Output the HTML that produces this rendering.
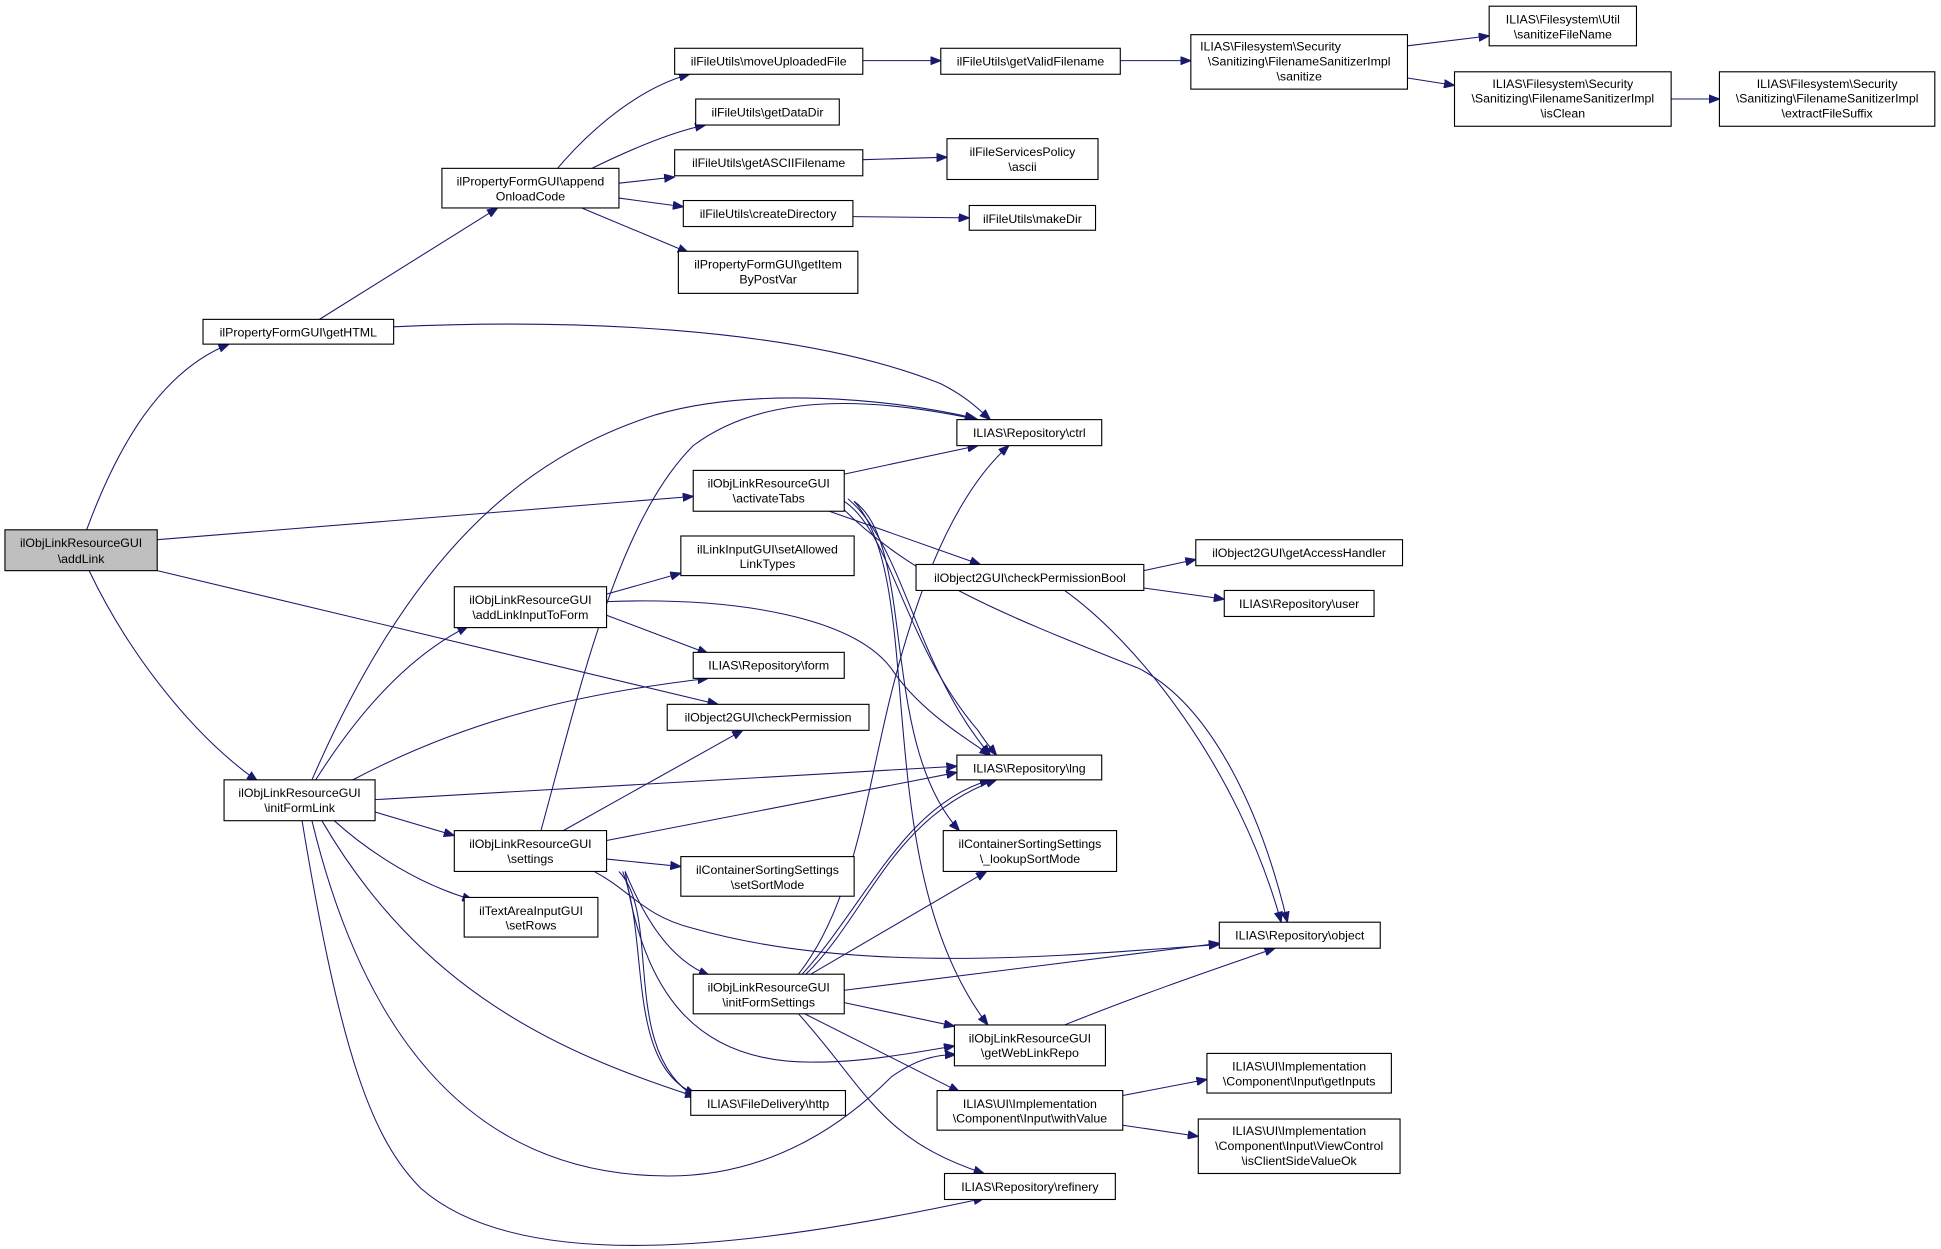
<!DOCTYPE html>
<html><head><meta charset="utf-8"><style>
html,body{margin:0;padding:0;background:#fff;}
svg{display:block;}
text{font-family:"Liberation Sans",Arial,sans-serif;font-size:10px;fill:#000;text-anchor:middle;}
.n{fill:#fff;stroke:#000;stroke-width:0.9;}
.g{fill:#bfbfbf;stroke:#000;stroke-width:0.9;}
.e{fill:none;stroke:#191970;stroke-width:0.85;}
</style></head><body>
<svg width="1941" height="1249" viewBox="0 0 1568 1009" preserveAspectRatio="none" xmlns="http://www.w3.org/2000/svg">
<defs><marker id="a" markerWidth="9" markerHeight="7" refX="8.5" refY="3.5" orient="auto" markerUnits="userSpaceOnUse"><path d="M0,0 L9,3.5 L0,7 z" fill="#191970" stroke="#191970" stroke-width="0.5"/></marker></defs>
<g class="edges">
<path class="e" marker-end="url(#a)" d="M70,428 C95,360 130,300 185,278"/>
<path class="e" marker-end="url(#a)" d="M258,258 L402,168"/>
<path class="e" marker-end="url(#a)" d="M447,140 C480,100 520,70 557,60"/>
<path class="e" marker-end="url(#a)" d="M470,140 C500,125 540,107 570,101"/>
<path class="e" marker-end="url(#a)" d="M500,148 L545,143"/>
<path class="e" marker-end="url(#a)" d="M500,160 L552,167"/>
<path class="e" marker-end="url(#a)" d="M470,168 L556,204"/>
<path class="e" marker-end="url(#a)" d="M697,49 L760,49"/>
<path class="e" marker-end="url(#a)" d="M905,49 L962,49"/>
<path class="e" marker-end="url(#a)" d="M1137,37 L1203,29"/>
<path class="e" marker-end="url(#a)" d="M1137,63 L1175,69"/>
<path class="e" marker-end="url(#a)" d="M1350,80 L1389,80"/>
<path class="e" marker-end="url(#a)" d="M697,129 L765,127"/>
<path class="e" marker-end="url(#a)" d="M689,175 L783,176"/>
<path class="e" marker-end="url(#a)" d="M318,264 C450,258 640,262 760,310 C780,320 790,330 800,339"/>
<path class="e" marker-end="url(#a)" d="M127,436 L560,401"/>
<path class="e" marker-end="url(#a)" d="M72,461 C100,520 150,590 208,631"/>
<path class="e" marker-end="url(#a)" d="M127,461 L580,569"/>
<path class="e" marker-end="url(#a)" d="M682,383 L790,360"/>
<path class="e" marker-end="url(#a)" d="M670,413 L792,456"/>
<path class="e" marker-end="url(#a)" d="M682,405 C720,430 730,520 790,590 C795,598 800,604 805,610"/>
<path class="e" marker-end="url(#a)" d="M685,403 C730,440 740,540 800,610"/>
<path class="e" marker-end="url(#a)" d="M680,410 C740,470 820,500 920,540 C980,570 1020,660 1040,745"/>
<path class="e" marker-end="url(#a)" d="M690,405 C740,440 710,600 775,671"/>
<path class="e" marker-end="url(#a)" d="M690,405 C750,470 700,700 798,828"/>
<path class="e" marker-end="url(#a)" d="M924,461 L966,452"/>
<path class="e" marker-end="url(#a)" d="M924,475 L989,484"/>
<path class="e" marker-end="url(#a)" d="M860,477 C920,520 1000,620 1035,745"/>
<path class="e" marker-end="url(#a)" d="M252,630 C330,450 420,370 530,335 C610,312 720,322 788,338"/>
<path class="e" marker-end="url(#a)" d="M255,630 C290,575 330,530 378,506"/>
<path class="e" marker-end="url(#a)" d="M285,630 C380,580 470,560 572,548"/>
<path class="e" marker-end="url(#a)" d="M303,646 L773,619"/>
<path class="e" marker-end="url(#a)" d="M303,656 L367,675"/>
<path class="e" marker-end="url(#a)" d="M270,663 C300,690 340,715 382,727"/>
<path class="e" marker-end="url(#a)" d="M260,663 C340,800 450,850 562,886"/>
<path class="e" marker-end="url(#a)" d="M252,663 C290,820 370,950 540,950 C630,950 690,900 720,870 C740,856 755,852 772,852"/>
<path class="e" marker-end="url(#a)" d="M244,663 C275,850 300,920 340,960 C420,1030 600,1010 795,968"/>
<path class="e" marker-end="url(#a)" d="M490,480 L550,463"/>
<path class="e" marker-end="url(#a)" d="M490,497 L572,528"/>
<path class="e" marker-end="url(#a)" d="M490,486 C600,482 690,500 720,540 C740,570 770,590 800,610"/>
<path class="e" marker-end="url(#a)" d="M437,671 C470,550 500,420 560,360 C620,315 710,322 790,339"/>
<path class="e" marker-end="url(#a)" d="M455,671 L600,590"/>
<path class="e" marker-end="url(#a)" d="M490,679 L773,624"/>
<path class="e" marker-end="url(#a)" d="M490,694 L550,700"/>
<path class="e" marker-end="url(#a)" d="M480,704 C510,720 520,740 560,750 C700,790 880,770 985,763"/>
<path class="e" marker-end="url(#a)" d="M505,704 C520,740 540,775 573,788"/>
<path class="e" marker-end="url(#a)" d="M500,704 C535,740 500,850 563,887"/>
<path class="e" marker-end="url(#a)" d="M503,704 C525,760 505,860 562,884"/>
<path class="e" marker-end="url(#a)" d="M505,704 C520,800 560,860 660,858 C700,858 740,850 771,845"/>
<path class="e" marker-end="url(#a)" d="M645,787 C690,730 700,640 720,560 C740,480 770,400 815,360"/>
<path class="e" marker-end="url(#a)" d="M648,787 C700,730 730,650 800,630"/>
<path class="e" marker-end="url(#a)" d="M651,787 C700,740 720,660 805,630"/>
<path class="e" marker-end="url(#a)" d="M655,787 L797,704"/>
<path class="e" marker-end="url(#a)" d="M682,800 L985,762"/>
<path class="e" marker-end="url(#a)" d="M682,810 L771,829"/>
<path class="e" marker-end="url(#a)" d="M650,819 L775,882"/>
<path class="e" marker-end="url(#a)" d="M645,819 C700,880 710,920 795,948"/>
<path class="e" marker-end="url(#a)" d="M860,828 C930,800 990,780 1030,766"/>
<path class="e" marker-end="url(#a)" d="M907,885 L975,872"/>
<path class="e" marker-end="url(#a)" d="M907,909 L968,918"/>
</g>
<g>
<rect class="g" x="4" y="428" width="123" height="33"/><text x="65.5" y="442">ilObjLinkResourceGUI</text><text x="65.5" y="455">\addLink</text>
<rect class="n" x="164" y="258" width="154" height="20"/><text x="241" y="272">ilPropertyFormGUI\getHTML</text>
<rect class="n" x="357" y="136" width="143" height="32"/><text x="428.5" y="150">ilPropertyFormGUI\append</text><text x="428.5" y="162">OnloadCode</text>
<rect class="n" x="545" y="39" width="152" height="21"/><text x="621" y="53">ilFileUtils\moveUploadedFile</text>
<rect class="n" x="562" y="80" width="116" height="21"/><text x="620" y="94">ilFileUtils\getDataDir</text>
<rect class="n" x="545" y="121" width="152" height="21"/><text x="621" y="135">ilFileUtils\getASCIIFilename</text>
<rect class="n" x="552" y="162" width="137" height="21"/><text x="620.5" y="176">ilFileUtils\createDirectory</text>
<rect class="n" x="548" y="203" width="145" height="34"/><text x="620.5" y="217">ilPropertyFormGUI\getItem</text><text x="620.5" y="229">ByPostVar</text>
<rect class="n" x="760" y="39" width="145" height="21"/><text x="832.5" y="53">ilFileUtils\getValidFilename</text>
<rect class="n" x="962" y="28" width="175" height="44"/><text x="1049.5" y="41" style="text-anchor:start" transform="translate(-80,0)">ILIAS\Filesystem\Security</text><text x="1049.5" y="53">\Sanitizing\FilenameSanitizerImpl</text><text x="1049.5" y="65">\sanitize</text>
<rect class="n" x="1203" y="5" width="119" height="32"/><text x="1262.5" y="19">ILIAS\Filesystem\Util</text><text x="1262.5" y="31">\sanitizeFileName</text>
<rect class="n" x="1175" y="58" width="175" height="44"/><text x="1262.5" y="71">ILIAS\Filesystem\Security</text><text x="1262.5" y="83">\Sanitizing\FilenameSanitizerImpl</text><text x="1262.5" y="95">\isClean</text>
<rect class="n" x="1389" y="58" width="174" height="44"/><text x="1476" y="71">ILIAS\Filesystem\Security</text><text x="1476" y="83">\Sanitizing\FilenameSanitizerImpl</text><text x="1476" y="95">\extractFileSuffix</text>
<rect class="n" x="765" y="112" width="122" height="33"/><text x="826" y="126">ilFileServicesPolicy</text><text x="826" y="138">\ascii</text>
<rect class="n" x="783" y="166" width="102" height="20"/><text x="834" y="180">ilFileUtils\makeDir</text>
<rect class="n" x="773" y="339" width="117" height="21"/><text x="831.5" y="353">ILIAS\Repository\ctrl</text>
<rect class="n" x="560" y="380" width="122" height="33"/><text x="621" y="394">ilObjLinkResourceGUI</text><text x="621" y="406">\activateTabs</text>
<rect class="n" x="550" y="433" width="140" height="32"/><text x="620" y="447">ilLinkInputGUI\setAllowed</text><text x="620" y="459">LinkTypes</text>
<rect class="n" x="740" y="456" width="184" height="21"/><text x="832" y="470">ilObject2GUI\checkPermissionBool</text>
<rect class="n" x="966" y="436" width="167" height="21"/><text x="1049.5" y="450">ilObject2GUI\getAccessHandler</text>
<rect class="n" x="989" y="477" width="121" height="21"/><text x="1049.5" y="491">ILIAS\Repository\user</text>
<rect class="n" x="367" y="474" width="123" height="33"/><text x="428.5" y="488">ilObjLinkResourceGUI</text><text x="428.5" y="500">\addLinkInputToForm</text>
<rect class="n" x="560" y="527" width="122" height="21"/><text x="621" y="541">ILIAS\Repository\form</text>
<rect class="n" x="539" y="569" width="163" height="21"/><text x="620.5" y="583">ilObject2GUI\checkPermission</text>
<rect class="n" x="181" y="630" width="122" height="33"/><text x="242" y="644">ilObjLinkResourceGUI</text><text x="242" y="656">\initFormLink</text>
<rect class="n" x="773" y="610" width="117" height="20"/><text x="831.5" y="624">ILIAS\Repository\lng</text>
<rect class="n" x="367" y="671" width="123" height="33"/><text x="428.5" y="685">ilObjLinkResourceGUI</text><text x="428.5" y="697">\settings</text>
<rect class="n" x="550" y="692" width="140" height="32"/><text x="620" y="706">ilContainerSortingSettings</text><text x="620" y="718">\setSortMode</text>
<rect class="n" x="762" y="671" width="140" height="33"/><text x="832" y="685">ilContainerSortingSettings</text><text x="832" y="697">\_lookupSortMode</text>
<rect class="n" x="375" y="725" width="108" height="32"/><text x="429" y="739">ilTextAreaInputGUI</text><text x="429" y="751">\setRows</text>
<rect class="n" x="985" y="745" width="130" height="21"/><text x="1050" y="759">ILIAS\Repository\object</text>
<rect class="n" x="560" y="787" width="122" height="32"/><text x="621" y="801">ilObjLinkResourceGUI</text><text x="621" y="813">\initFormSettings</text>
<rect class="n" x="771" y="828" width="122" height="33"/><text x="832" y="842">ilObjLinkResourceGUI</text><text x="832" y="854">\getWebLinkRepo</text>
<rect class="n" x="975" y="851" width="149" height="32"/><text x="1049.5" y="865">ILIAS\UI\Implementation</text><text x="1049.5" y="877">\Component\Input\getInputs</text>
<rect class="n" x="558" y="881" width="125" height="20"/><text x="620.5" y="895">ILIAS\FileDelivery\http</text>
<rect class="n" x="757" y="881" width="150" height="32"/><text x="832" y="895">ILIAS\UI\Implementation</text><text x="832" y="907">\Component\Input\withValue</text>
<rect class="n" x="968" y="904" width="163" height="44"/><text x="1049.5" y="917">ILIAS\UI\Implementation</text><text x="1049.5" y="929">\Component\Input\ViewControl</text><text x="1049.5" y="941">\isClientSideValueOk</text>
<rect class="n" x="763" y="948" width="138" height="21"/><text x="832" y="962">ILIAS\Repository\refinery</text>
</g>
</svg>
</body></html>
